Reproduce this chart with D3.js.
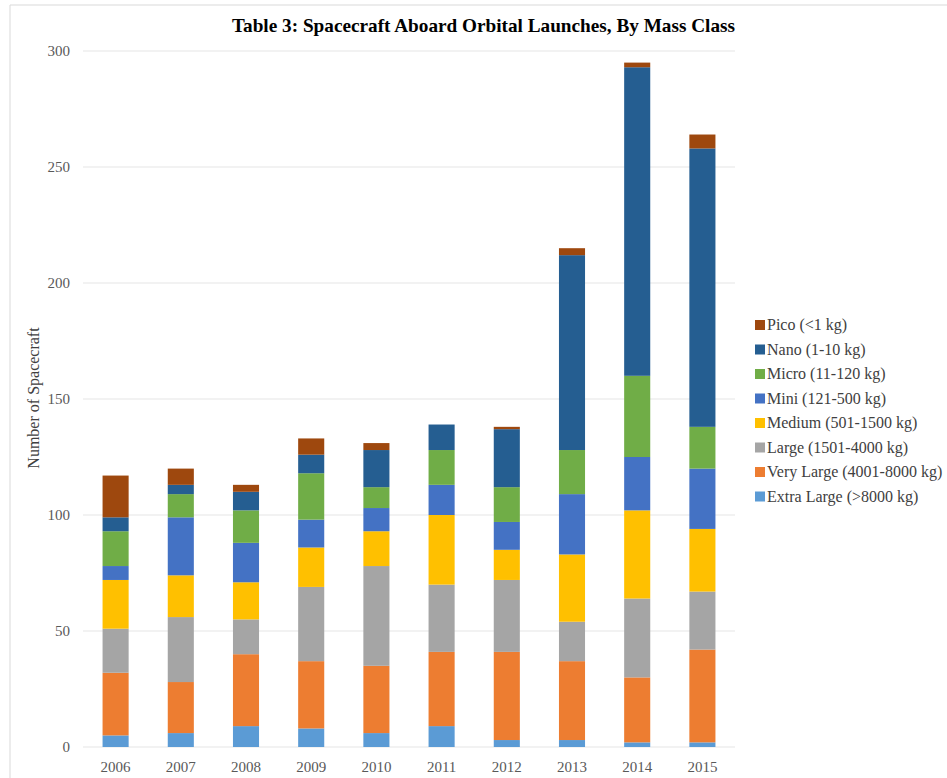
<!DOCTYPE html>
<html lang="en">
<head>
<meta charset="UTF-8">
<title>Spacecraft Aboard Orbital Launches</title>
<script src="https://d3js.org/d3.v7.min.js"></script>
<style>
  body { margin: 0; background: #fff; }
  text { font-family: "Liberation Serif", "Times New Roman", serif; }
  .tick text { fill: #595959; font-size: 15px; }
  .legend text { fill: #404040; font-size: 16px; }
</style>
</head>
<body>
<script>
const years = ["2006","2007","2008","2009","2010","2011","2012","2013","2014","2015"];
const classes = ["Extra Large (>8000 kg)","Very Large (4001-8000 kg)","Large (1501-4000 kg)","Medium (501-1500 kg)","Mini (121-500 kg)","Micro (11-120 kg)","Nano (1-10 kg)","Pico (<1 kg)"];
const colors = ["#5B9BD5","#ED7D31","#A5A5A5","#FFC000","#4472C4","#70AD47","#255E91","#9E480E"];

// counts per year, one array per mass class (bottom to top)
const extraLarge = [5, 6, 9, 8, 6, 9, 3, 3, 2, 2];
const veryLarge  = [27, 22, 31, 29, 29, 32, 38, 34, 28, 40];
const large      = [19, 28, 15, 32, 43, 29, 31, 17, 34, 25];
const medium     = [21, 18, 16, 17, 15, 30, 13, 29, 38, 27];
const mini       = [6, 25, 17, 12, 10, 13, 12, 26, 23, 26];
const micro      = [15, 10, 14, 20, 9, 15, 15, 19, 35, 18];
const nano       = [6, 4, 8, 8, 16, 11, 25, 84, 133, 120];
const pico       = [18, 7, 3, 7, 3, 0, 1, 3, 2, 6];
const series = [extraLarge, veryLarge, large, medium, mini, micro, nano, pico];
const yTicks = [0, 50, 100, 150, 200, 250, 300];

const W = 947, H = 778;
const m = {left: 83, right: 212, top: 51, bottom: 31};

const svg = d3.select("body").append("svg")
  .attr("width", W).attr("height", H);

// chart frame
svg.append("path")
  .attr("d", `M10,${H} L10,5 L${W},5`)
  .attr("fill", "none").attr("stroke", "#d9d9d9");

const table = years.map((y, i) => {
  const row = {year: y};
  classes.forEach((c, k) => row[c] = series[k][i]);
  return row;
});
const stacked = d3.stack().keys(classes)(table);

const x = d3.scaleBand().domain(years)
  .range([m.left, W - m.right]).paddingInner(0.6).paddingOuter(0.3);
const y = d3.scaleLinear().domain([0, 300]).range([H - m.bottom, m.top]);

// gridlines
svg.append("g").selectAll("line").data(yTicks).join("line")
  .attr("x1", m.left).attr("x2", W - m.right)
  .attr("y1", d => y(d)).attr("y2", d => y(d))
  .attr("stroke", "#e6e6e6").attr("stroke-width", 1.2);

const yAxis = svg.append("g").attr("transform", `translate(${m.left},0)`)
  .call(d3.axisLeft(y).tickValues(yTicks).tickSize(0).tickPadding(13));
yAxis.select(".domain").remove();

svg.append("g").selectAll("g").data(stacked).join("g")
  .attr("fill", (d, i) => colors[i])
  .selectAll("rect").data(d => d).join("rect")
  .attr("x", d => x(d.data.year))
  .attr("width", x.bandwidth())
  .attr("y", d => y(d[1]))
  .attr("height", d => y(d[0]) - y(d[1]));

const xAxis = svg.append("g").attr("transform", `translate(0,${H - m.bottom})`)
  .call(d3.axisBottom(x).tickSize(0).tickPadding(14));
xAxis.select(".domain").remove();

svg.append("text")
  .attr("transform", "translate(39,398) rotate(-90)")
  .attr("text-anchor", "middle").attr("font-size", 16).attr("fill", "#404040")
  .text("Number of Spacecraft");

svg.append("text")
  .attr("x", 232).attr("y", 32)
  .attr("textLength", 503).attr("lengthAdjust", "spacingAndGlyphs")
  .attr("font-size", 19).attr("font-weight", "bold").attr("fill", "#000")
  .text("Table 3: Spacecraft Aboard Orbital Launches, By Mass Class");

// legend, top entry is Pico
const legend = svg.append("g").attr("class", "legend");
const items = classes.map((c, i) => ({name: c, color: colors[i]})).reverse();
const rows = legend.selectAll("g").data(items).join("g")
  .attr("transform", (d, i) => `translate(755,${325 + i * 24.5})`);
rows.append("rect").attr("x", 0).attr("y", -5).attr("width", 10).attr("height", 10)
  .attr("fill", d => d.color);
rows.append("text").attr("x", 12).attr("y", 5).text(d => d.name);
</script>
</body>
</html>
